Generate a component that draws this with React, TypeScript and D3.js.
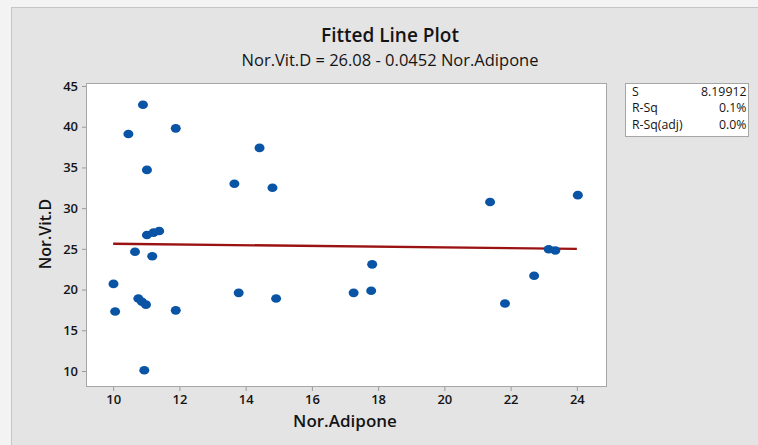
import { useEffect, useRef } from 'react';
import * as d3 from 'd3';

// values
const adipone = [
  10.90, 10.46, 11.89, 14.42, 11.02, 13.66, 14.81, 11.02, 11.22, 11.39,
  10.66, 11.18, 10.01, 10.06, 10.76, 10.87, 10.99, 11.89, 10.94, 13.79,
  14.92, 17.26, 17.79, 17.82, 21.38, 24.03, 21.83, 22.71, 23.15, 23.35,
];
const vitD = [
  42.7, 39.1, 39.8, 37.4, 34.7, 33.0, 32.5, 26.7, 27.0, 27.2,
  24.65, 24.1, 20.7, 17.3, 18.9, 18.5, 18.15, 17.45, 10.1, 19.6,
  18.9, 19.6, 19.85, 23.1, 30.75, 31.6, 18.3, 21.7, 24.95, 24.8,
];
const xTicks = [10, 12, 14, 16, 18, 20, 22, 24];
const yTicks = [10, 15, 20, 25, 30, 35, 40, 45];
const intercept = 26.08;
const slope = -0.0452;
const statLabels = ['S', 'R-Sq', 'R-Sq(adj)'];
const statValues = ['8.19912', '0.1%', '0.0%'];

const FONT = '"Open Sans", "Noto Sans", sans-serif';

const App = () => {
  const svgRef = useRef<SVGSVGElement>(null);

  useEffect(() => {
    if (!svgRef.current) return;
    const width = 758;
    const height = 445;
    const plot = { left: 86, top: 83, right: 606, bottom: 386 };

    const svg = d3.select(svgRef.current);
    svg.selectAll('*').remove();
    svg.attr('width', width).attr('height', height);

    // outer background
    svg.append('rect').attr('width', width).attr('height', height).attr('fill', '#f3f3f3');
    svg.append('rect')
      .attr('x', 11.5).attr('y', 7.5)
      .attr('width', width).attr('height', height)
      .attr('fill', '#e4e4e4')
      .attr('stroke', '#c6c6c6');

    const x = d3.scaleLinear().domain([9.18, 24.88]).range([plot.left, plot.right]);
    const y = d3.scaleLinear().domain([8.16, 45.37]).range([plot.bottom, plot.top]);

    svg.append('rect')
      .attr('x', plot.left + 0.5).attr('y', plot.top + 0.5)
      .attr('width', plot.right - plot.left).attr('height', plot.bottom - plot.top)
      .attr('fill', '#ffffff')
      .attr('stroke', '#a6a6a6');

    const xAxis = svg.append('g')
      .attr('transform', `translate(0,${plot.bottom + 1})`)
      .call(d3.axisBottom(x).tickValues(xTicks).tickSize(4).tickPadding(4));
    const yAxis = svg.append('g')
      .attr('transform', `translate(${plot.left},0)`)
      .call(d3.axisLeft(y).tickValues(yTicks).tickSize(4).tickPadding(4));
    [xAxis, yAxis].forEach(a => {
      a.select('.domain').remove();
      a.selectAll('line').attr('stroke', '#9a9a9a');
      a.selectAll('text')
        .attr('fill', '#141414')
        .style('font-family', FONT)
        .style('font-size', '13px')
        .style('font-weight', 600);
    });

    // fitted line
    const x0 = 10, x1 = 24;
    const lineData: [number, number][] = [[x0, intercept + slope * x0], [x1, intercept + slope * x1]];
    svg.append('path')
      .datum(lineData)
      .attr('d', d3.line<[number, number]>().x(d => x(d[0])).y(d => y(d[1])))
      .attr('fill', 'none')
      .attr('stroke', '#9b1212')
      .attr('stroke-width', 2.4);

    // points
    svg.append('g')
      .selectAll('ellipse')
      .data(adipone.map((a, i) => [a, vitD[i]]))
      .enter()
      .append('ellipse')
      .attr('cx', d => x(d[0]))
      .attr('cy', d => y(d[1]))
      .attr('rx', 5)
      .attr('ry', 4.3)
      .attr('fill', '#0a54a5');

    // titles
    svg.append('text')
      .attr('x', 390).attr('y', 42)
      .attr('text-anchor', 'middle')
      .style('font-family', FONT).style('font-size', '19px').style('font-weight', 600)
      .attr('fill', '#141414')
      .text('Fitted Line Plot');
    svg.append('text')
      .attr('x', 390).attr('y', 66)
      .attr('text-anchor', 'middle')
      .style('font-family', FONT).style('font-size', '16.5px').style('font-weight', 500)
      .attr('fill', '#141414')
      .text('Nor.Vit.D = 26.08 - 0.0452 Nor.Adipone');

    svg.append('text')
      .attr('x', 345).attr('y', 427)
      .attr('text-anchor', 'middle')
      .style('font-family', FONT).style('font-size', '17px').style('font-weight', 600)
      .attr('fill', '#141414')
      .text('Nor.Adipone');
    svg.append('text')
      .attr('transform', `translate(51,234) rotate(-90)`)
      .attr('text-anchor', 'middle')
      .style('font-family', FONT).style('font-size', '16px').style('font-weight', 600)
      .attr('fill', '#141414')
      .text('Nor.Vit.D');

    // stats box
    const box = svg.append('g');
    box.append('rect')
      .attr('x', 625.5).attr('y', 83.5).attr('width', 123).attr('height', 53)
      .attr('fill', '#ffffff').attr('stroke', '#a6a6a6');
    statLabels.forEach((l, i) => {
      box.append('text')
        .attr('x', 632).attr('y', 96 + i * 16.3)
        .style('font-family', FONT).style('font-size', '12.3px').style('font-weight', 500)
        .attr('fill', '#141414')
        .text(l);
      box.append('text')
        .attr('x', 746.5).attr('y', 96 + i * 16.3)
        .attr('text-anchor', 'end')
        .style('font-family', FONT).style('font-size', '12.3px').style('font-weight', 500)
        .attr('fill', '#141414')
        .text(statValues[i]);
    });
  }, []);

  return (
    <div style={{ position: 'absolute', left: 0, top: 0 }}>
      <svg ref={svgRef} style={{ display: 'block' }}></svg>
    </div>
  );
};

export default App;
